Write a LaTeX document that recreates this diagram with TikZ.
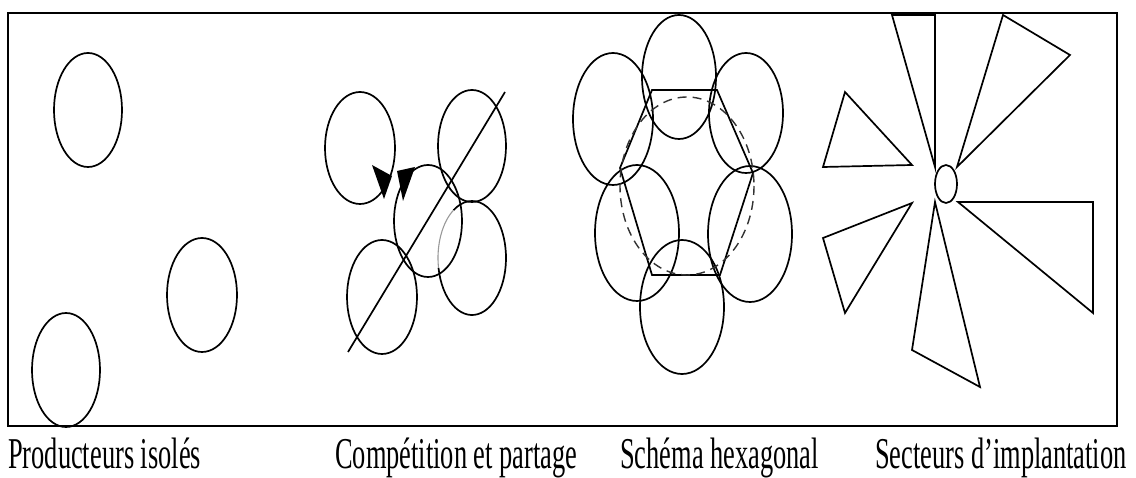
\documentclass[tikz,border=0pt]{standalone}
\usepackage{fontspec}
\setmainfont{Liberation Serif}
\begin{document}
\begin{tikzpicture}[x=1pt,y=-1pt,
  ln/.style={line width=1.7pt,black},
  frame/.style={line width=2pt,black},
  lbl/.style={anchor=base west,inner sep=0pt,font=\fontsize{44}{44}\selectfont}]
\useasboundingbox (0,0) rectangle (1136,478);
\fill[white] (0,0) rectangle (1136,478);
% frame
\draw[frame] (8,13) rectangle (1117,426);

% Panel 1: isolated producers
\draw[ln] (88,110) ellipse [x radius=34, y radius=57];
\draw[ln] (202,295) ellipse [x radius=35, y radius=57];
\draw[ln] (66,370) ellipse [x radius=34, y radius=57];

% Panel 2: competition and sharing
\draw[ln] (360,148) ellipse [x radius=35, y radius=56];
\draw[ln] (472,146) ellipse [x radius=34, y radius=56];
\draw[ln] (428,221) ellipse [x radius=34, y radius=56];
\draw[ln] (382,297) ellipse [x radius=35, y radius=57];
\draw[ln] (472,258) ++(-190:34 and 57) arc[start angle=-190, end angle=-483, x radius=34, y radius=57];
\draw[line width=1.1pt,black!40] (472,258) ++(-123:34 and 57) arc[start angle=-123, end angle=-190, x radius=34, y radius=57];
\draw[ln] (348,352) -- (505,92);
\fill[black] (372,165) -- (392,176) -- (384,199) -- cycle;
\fill[black] (397,171) -- (415,167) -- (403,201) -- cycle;

% Panel 3: hexagonal scheme
\draw[ln] (679,77) ellipse [x radius=37, y radius=62];
\draw[ln] (613,119) ellipse [x radius=40, y radius=66];
\draw[ln] (746,113) ellipse [x radius=37, y radius=60];
\draw[ln] (637,233) ellipse [x radius=42, y radius=68];
\draw[ln] (750,234) ellipse [x radius=42, y radius=68];
\draw[ln] (682,307) ellipse [x radius=42, y radius=67];
\draw[ln] (652,90) -- (717,90) -- (753,173) -- (720,275) -- (652,275) -- (620,168) -- cycle;
\draw[line width=1.4pt,black!80,dash pattern=on 9pt off 6pt] (687,186) ellipse [x radius=67, y radius=89];

% Panel 4: sectors
\draw[ln] (946,184) ellipse [x radius=11, y radius=19];
\draw[ln] (892,15) -- (935,15) -- (935,167) -- cycle;
\draw[ln] (1003,15) -- (1070,55) -- (957,167) -- cycle;
\draw[ln] (845,92) -- (912,165) -- (823,167) -- cycle;
\draw[ln] (912,203) -- (823,238) -- (845,313) -- cycle;
\draw[ln] (935,202) -- (912,350) -- (980,387) -- cycle;
\draw[ln] (958,202) -- (1093,202) -- (1093,313) -- cycle;

% labels
\node[lbl] (l1) at (8,468) {\scalebox{0.6}[1]{Producteurs isolés}};
\node[lbl] (l2) at (335,468) {\scalebox{0.6}[1]{Compétition et partage}};
\node[lbl] (l3) at (620,468) {\scalebox{0.6}[1]{Schéma hexagonal}};
\node[lbl] (l4) at (875,468) {\scalebox{0.6}[1]{Secteurs d’implantation}};
\end{tikzpicture}
\end{document}
